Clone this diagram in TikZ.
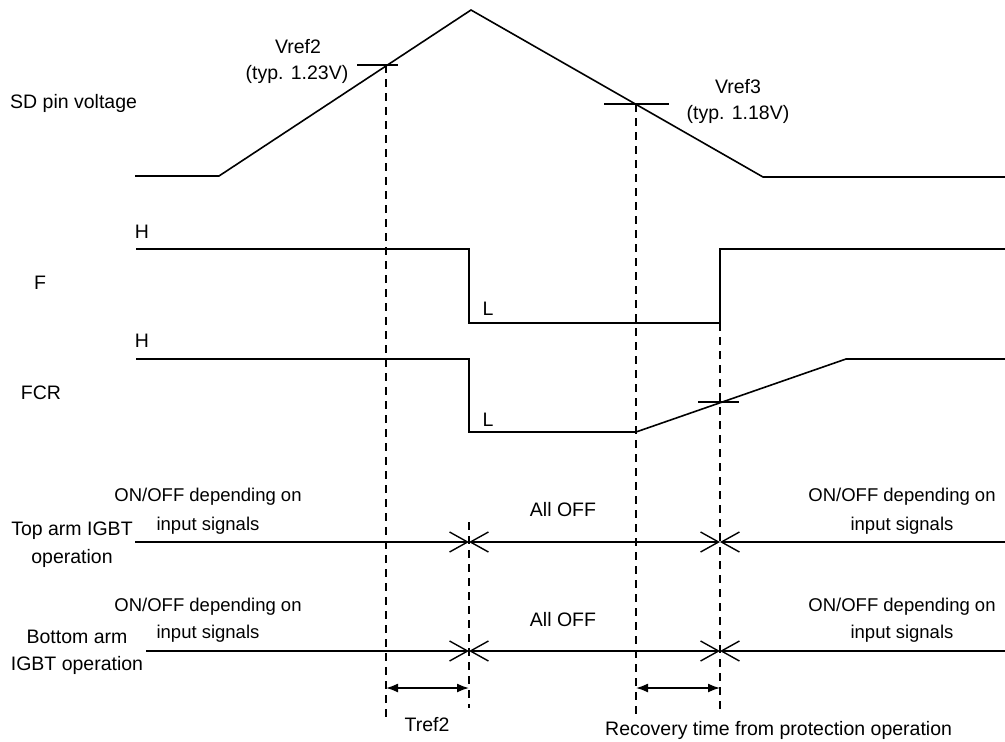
\documentclass[tikz,border=0pt]{standalone}
\usepackage{fontspec}
\setmainfont{Liberation Sans}
\usetikzlibrary{arrows.meta}
\begin{document}
\begin{tikzpicture}[x=1pt,y=-1pt,
  wave/.style={line width=1.6pt, line join=miter},
  guide/.style={line width=1.6pt, dash pattern=on 8pt off 6pt},
  lbl/.style={font=\fontsize{19.5}{23}\selectfont, inner sep=0pt},
  slbl/.style={font=\fontsize{18.5}{22}\selectfont, inner sep=0pt},
  opline/.style={line width=1.4pt},
  barb/.tip={Straight Barb[length=18pt,width=20pt]},
  dim/.style={line width=1.6pt, {Latex[length=12pt,width=9pt]}-{Latex[length=12pt,width=9pt]}}
]
\useasboundingbox (0,0) rectangle (1005,742);

% key time coordinates
\coordinate (v2) at (386,65);
\coordinate (v3) at (636,104);
\coordinate (tB) at (720,323);

% SD pin voltage
\draw[wave] (135,176) -- (219,176) -- (471,10) -- (763,177) -- (1005,177);
\draw[wave] (357,65) -- (398,65);
\draw[wave] (604,104) -- (669,104);

% F
\draw[wave] (136,249) -- (469,249) -- (469,323) -- (720,323) -- (720,249) -- (1005,249);
% FCR
\draw[wave] (136,359) -- (469,359) -- (469,432) -- (636,432) -- (846,359) -- (1005,359);
\draw[wave] (698,402) -- (739,402);

% dashed guides
\draw[guide] (v2) -- (386,722);
\draw[guide] (v3) -- (636,716);
\draw[guide] (469,522) -- (469,708);
\draw[guide] (tB) -- (720,712);

% operation lines
\coordinate (ta0) at (135,542);
\coordinate (ta1) at (469,542);
\coordinate (ta2) at (720,542);
\coordinate (ta3) at (1005,542);
\draw[opline,-barb] (ta0) -- (ta1);
\draw[opline,barb-barb] (ta1) -- (ta2);
\draw[opline,barb-] (ta2) -- (ta3);

\coordinate (ba0) at (146,651);
\coordinate (ba1) at (469,651);
\coordinate (ba2) at (720,651);
\coordinate (ba3) at (1005,651);
\draw[opline,-barb] (ba0) -- (ba1);
\draw[opline,barb-barb] (ba1) -- (ba2);
\draw[opline,barb-] (ba2) -- (ba3);

% dimension arrows
\coordinate (d1) at (386,688);
\coordinate (d2) at (469,688);
\coordinate (d3) at (636,688);
\coordinate (d4) at (720,688);
\draw[dim] (d1) -- (d2);
\draw[dim] (d3) -- (d4);

% labels
\node[lbl,anchor=west] (sd) at (10,103) {SD pin voltage};
\node[lbl] (vr2) at (298,47) {Vref2};
\node[lbl] (vr2t) at (297,74) {(typ. 1.23V)};
\node[lbl] (vr3) at (738,87) {Vref3};
\node[lbl] (vr3t) at (738,114) {(typ. 1.18V)};

\node[lbl] (f) at (40,283) {F};
\node[lbl] (fh) at (142,232) {H};
\node[lbl] (fl) at (488,309) {L};
\node[lbl] (fcr) at (41,393) {FCR};
\node[lbl] (fcrh) at (142,341) {H};
\node[lbl] (fcrl) at (488,420) {L};

\node[slbl] (t1) at (208,497) {ON/OFF depending on};
\node[slbl] (t2) at (208,526) {input signals};
\node[lbl] (t3) at (563,510) {All OFF};
\node[slbl] (t4) at (902,497) {ON/OFF depending on};
\node[slbl] (t5) at (902,526) {input signals};
\node[lbl] (top1) at (72,531) {Top arm IGBT};
\node[lbl] (top2) at (72,558) {operation};

\node[slbl] (b1) at (208,607) {ON/OFF depending on};
\node[slbl] (b2) at (208,634) {input signals};
\node[lbl] (b3) at (563,620) {All OFF};
\node[slbl] (b4) at (902,607) {ON/OFF depending on};
\node[slbl] (b5) at (902,634) {input signals};
\node[lbl] (bot1) at (77,637) {Bottom arm};
\node[lbl] (bot2) at (77,665) {IGBT operation};

\node[lbl] (tref) at (427,725) {Tref2};
\node[lbl,anchor=west] (rec) at (605,730) {Recovery time from protection operation};
\end{tikzpicture}
\end{document}
